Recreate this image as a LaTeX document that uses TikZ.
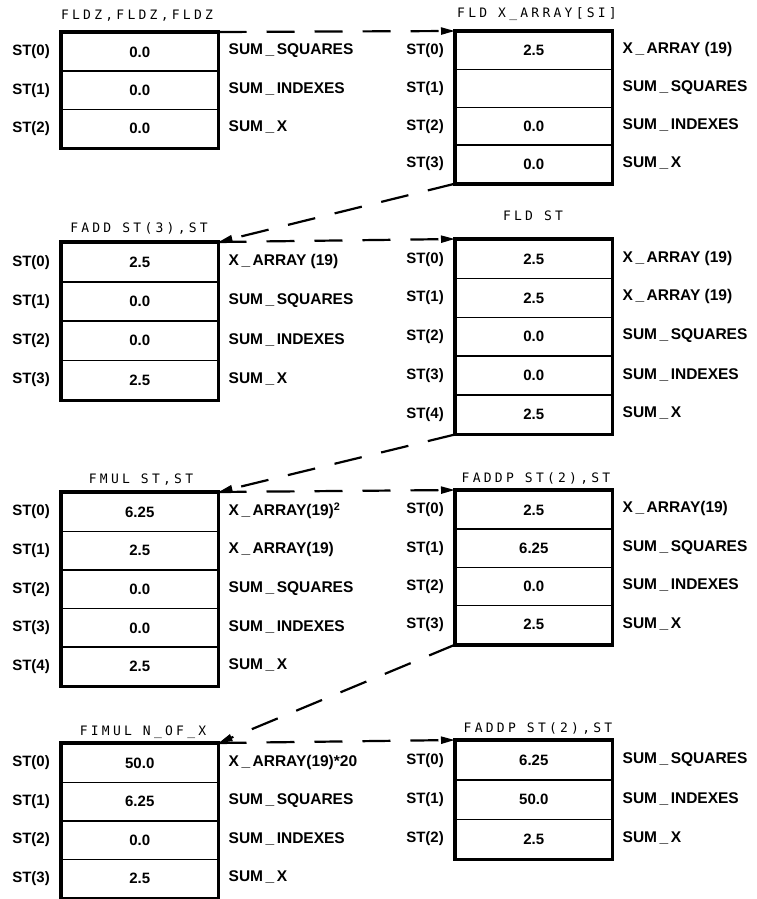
\documentclass[tikz,border=0pt]{standalone}
\usepackage{fontspec}
\usetikzlibrary{arrows.meta}
\newfontfamily\lblfont{Liberation Sans}
\newfontfamily\ttlfont[LetterSpace=25]{DejaVu Sans Mono}
\newcommand\us{\kern2.5pt\_\kern2.5pt}
\tikzset{
  cell/.style={draw, line width=1.5pt, minimum width=156pt, inner sep=0pt, anchor=north west,
    font=\lblfont\bfseries\fontsize{15}{18}\selectfont},
  stl/.style={anchor=east, inner sep=0pt, font=\lblfont\bfseries\fontsize{15}{18}\selectfont},
  rl/.style={anchor=west, inner sep=0pt, font=\lblfont\bfseries\fontsize{15.5}{18}\selectfont},
  ttl/.style={anchor=base, inner sep=0pt, font=\ttlfont\fontsize{13}{15}\selectfont},
  frame/.style={line width=3.6pt},
  flow/.style={line width=2.2pt, dash pattern=on 28pt off 20pt, -{Triangle[length=14pt,width=7pt]}}
}
\newcommand\stk[6]{%
  \foreach \s/\v/\r [count=\i from 0] in {#6} {
    \node[cell, minimum height=#4pt] (#1-\i) at (#2, {#3+\i*#4}) {\v};
    \node[stl] (#1-s\i) at ([xshift=-11pt]#1-\i.west) {\s};
    \node[rl] (#1-l\i) at ([xshift=10pt,yshift=1pt]#1-\i.east) {\r};
  }
  \draw[frame] (#1-0.north west) rectangle (#1-#5.south east);
}
\begin{document}
\begin{tikzpicture}[x=1pt,y=-1pt]
\useasboundingbox[fill=white] (0,0) rectangle (757,899);
% boxes
\stk{b1}{61}{32}{38.3}{2}{ST(0)/0.0/SUM\us SQUARES, ST(1)/0.0/SUM\us INDEXES, ST(2)/0.0/SUM\us X}
\stk{b2}{455}{31}{37.8}{3}{ST(0)/2.5/X\us ARRAY (19), ST(1)//SUM\us SQUARES, ST(2)/0.0/SUM\us INDEXES, ST(3)/0.0/SUM\us X}
\stk{b3}{61}{242}{39.2}{3}{ST(0)/2.5/X\us ARRAY (19), ST(1)/0.0/SUM\us SQUARES, ST(2)/0.0/SUM\us INDEXES, ST(3)/2.5/SUM\us X}
\stk{b4}{455}{239}{38.8}{4}{ST(0)/2.5/X\us ARRAY (19), ST(1)/2.5/X\us ARRAY (19), ST(2)/0.0/SUM\us SQUARES, ST(3)/0.0/SUM\us INDEXES, ST(4)/2.5/SUM\us X}
\stk{b5}{61}{492}{38.6}{4}{ST(0)/6.25/X\us ARRAY(19)\textsuperscript{2}, ST(1)/2.5/X\us ARRAY(19), ST(2)/0.0/SUM\us SQUARES, ST(3)/0.0/SUM\us INDEXES, ST(4)/2.5/SUM\us X}
\stk{b6}{455}{490}{38.3}{3}{ST(0)/2.5/X\us ARRAY(19), ST(1)/6.25/SUM\us SQUARES, ST(2)/0.0/SUM\us INDEXES, ST(3)/2.5/SUM\us X}
\stk{b7}{61}{743}{38.5}{3}{ST(0)/50.0/X\us ARRAY(19)*20, ST(1)/6.25/SUM\us SQUARES, ST(2)/0.0/SUM\us INDEXES, ST(3)/2.5/SUM\us X}
\stk{b8}{455}{740}{39.3}{2}{ST(0)/6.25/SUM\us SQUARES, ST(1)/50.0/SUM\us INDEXES, ST(2)/2.5/SUM\us X}
% titles
\node[ttl] (t1) at (137,20) {FLDZ,FLDZ,FLDZ};
\node[ttl] (t2) at (537,18) {FLD X\_ARRAY[SI]};
\node[ttl] (t3) at (139,232) {FADD ST(3),ST};
\node[ttl] (t4) at (533,220) {FLD ST};
\node[ttl] (t5) at (141,483) {FMUL ST,ST};
\node[ttl] (t6) at (536,482) {FADDP ST(2),ST};
\node[ttl] (t7) at (143,735) {FIMUL N\_OF\_X};
\node[ttl] (t8) at (538,732) {FADDP ST(2),ST};
% connectors
\draw[flow] (b1-0.north east) -- (b2-0.north west);
\draw[flow] (b2-3.south west) -- (b3-0.north east);
\draw[flow] (b3-0.north east) -- (b4-0.north west);
\draw[flow] (b4-4.south west) -- (b5-0.north east);
\draw[flow] (b5-0.north east) -- (b6-0.north west);
\draw[flow] (b6-3.south west) -- (b7-0.north east);
\draw[flow] (b7-0.north east) -- (b8-0.north west);
\end{tikzpicture}
\end{document}
